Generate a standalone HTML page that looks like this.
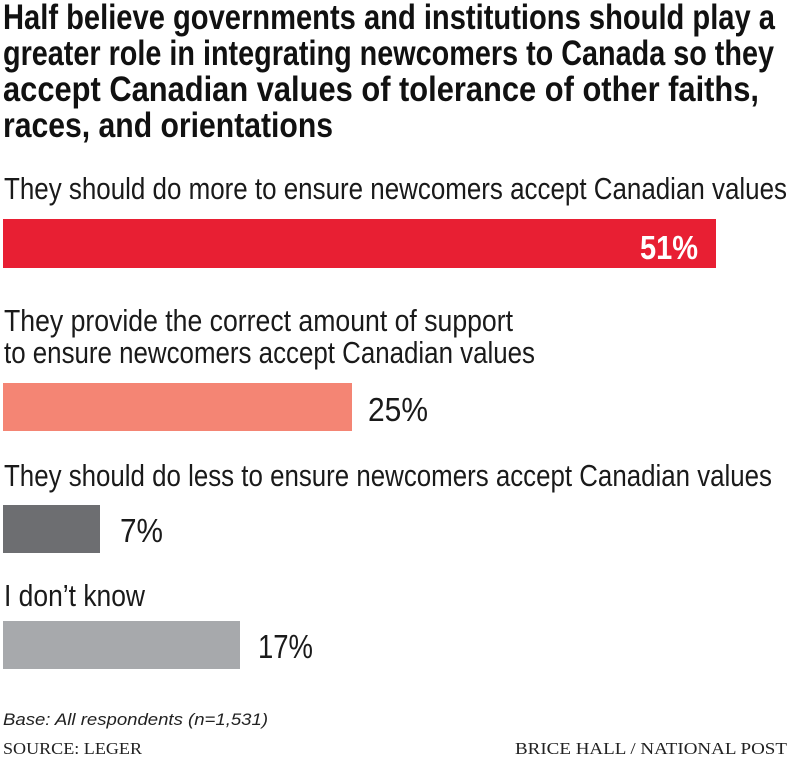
<!DOCTYPE html>
<html><head><meta charset="utf-8"><style>
html,body{margin:0;padding:0;background:#fff;}
svg{display:block;}
.t{font-family:"Liberation Sans Narrow","Liberation Sans",sans-serif;font-weight:bold;font-size:35px;fill:#111;}
.l{font-family:"Liberation Sans Narrow","Liberation Sans",sans-serif;font-size:31px;fill:#1a1a1a;}
.p{font-family:"Liberation Sans Narrow","Liberation Sans",sans-serif;font-size:33px;fill:#1a1a1a;}
.f{font-family:"Liberation Sans Narrow","Liberation Sans",sans-serif;font-style:italic;font-size:17px;fill:#222;}
.s{font-family:"Liberation Serif",serif;font-size:17px;fill:#222;}
</style></head><body>
<svg width="800" height="764" xmlns="http://www.w3.org/2000/svg">
<text class="t" x="3" y="29" textLength="772" lengthAdjust="spacingAndGlyphs">Half believe governments and institutions should play a</text>
<text class="t" x="3" y="65" textLength="771" lengthAdjust="spacingAndGlyphs">greater role in integrating newcomers to Canada so they</text>
<text class="t" x="3" y="101" textLength="756" lengthAdjust="spacingAndGlyphs">accept Canadian values of tolerance of other faiths,</text>
<text class="t" x="3" y="137" textLength="330" lengthAdjust="spacingAndGlyphs">races, and orientations</text>

<text class="l" x="4" y="199" textLength="783" lengthAdjust="spacingAndGlyphs">They should do more to ensure newcomers accept Canadian values</text>
<rect x="3" y="219" width="713" height="49" fill="#e81f33"/>
<text class="p" x="640" y="259" textLength="58" lengthAdjust="spacingAndGlyphs" style="fill:#fff;font-weight:bold">51%</text>

<text class="l" x="4" y="331" textLength="509" lengthAdjust="spacingAndGlyphs">They provide the correct amount of support</text>
<text class="l" x="4" y="363" textLength="531" lengthAdjust="spacingAndGlyphs">to ensure newcomers accept Canadian values</text>
<rect x="3" y="383" width="349" height="48" fill="#f48574"/>
<text class="p" x="368" y="421" textLength="60" lengthAdjust="spacingAndGlyphs">25%</text>

<text class="l" x="4" y="486" textLength="768" lengthAdjust="spacingAndGlyphs">They should do less to ensure newcomers accept Canadian values</text>
<rect x="3" y="505" width="97" height="48" fill="#6d6e71"/>
<text class="p" x="120" y="542" textLength="43" lengthAdjust="spacingAndGlyphs">7%</text>

<text class="l" x="4" y="606" textLength="141" lengthAdjust="spacingAndGlyphs">I don’t know</text>
<rect x="3" y="621" width="237" height="48" fill="#a7a9ac"/>
<text class="p" x="258" y="658" textLength="55" lengthAdjust="spacingAndGlyphs">17%</text>

<text class="f" x="3" y="725" textLength="265" lengthAdjust="spacingAndGlyphs">Base: All respondents (n=1,531)</text>
<text class="s" x="3" y="754" textLength="139" lengthAdjust="spacingAndGlyphs">SOURCE: LEGER</text>
<text class="s" x="515" y="754" textLength="272" lengthAdjust="spacingAndGlyphs">BRICE HALL  / NATIONAL POST</text>
</svg>
</body></html>
